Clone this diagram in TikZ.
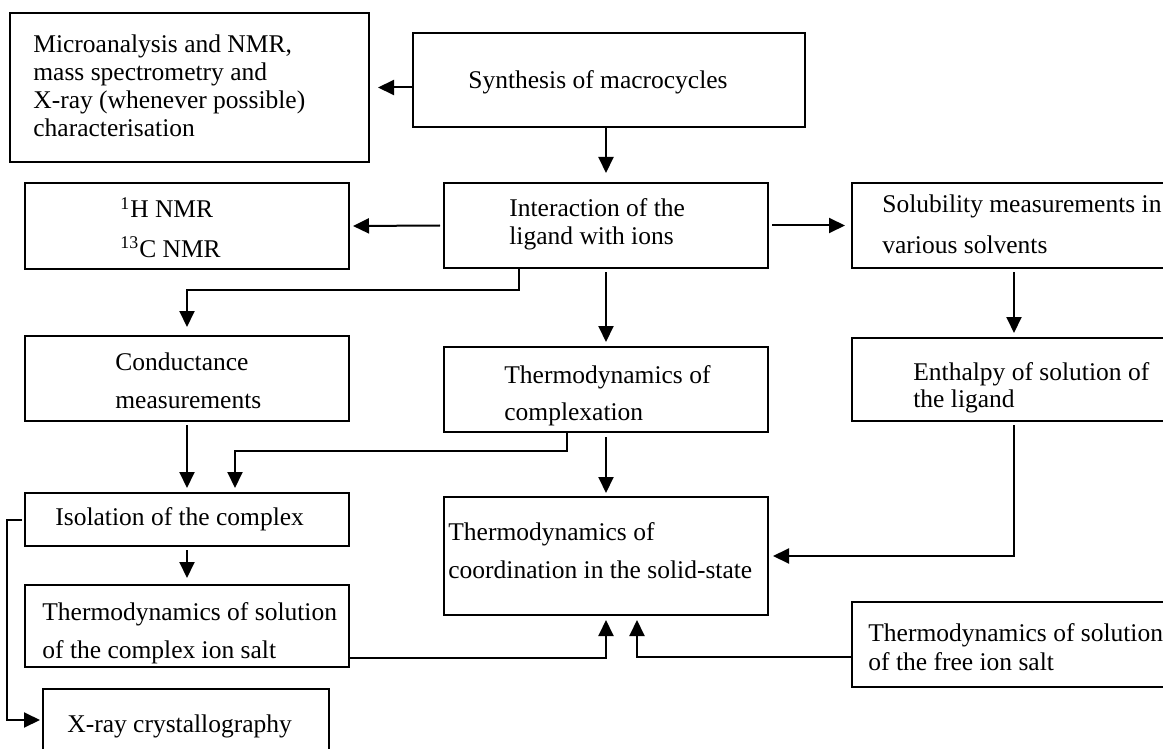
\documentclass[tikz,border=0pt]{standalone}
\usepackage{fontspec}
\setmainfont{Liberation Serif}
\usetikzlibrary{arrows.meta,fit,calc}
\begin{document}
\begin{tikzpicture}[x=0.5pt,y=-0.5pt,
  box/.style={draw, line width=1.2pt, inner sep=0pt, outer sep=0pt},
  txt/.style={anchor=base west, inner sep=0pt, font=\fontsize{12.75}{14}\selectfont},
  arr/.style={line width=1pt, -{Triangle[length=8pt,width=7.5pt]}}]
\clip (0,0) rectangle (1163,749);
\fill[white] (0,0) rectangle (1163,749);

% boxes
\node[box, fit={(10,13) (369,162)}] (A) {};
\node[box, fit={(413,33) (805,127)}] (B) {};
\node[box, fit={(25,183) (349,269)}] (C) {};
\node[box, fit={(444,183) (768,268)}] (D) {};
\node[box, fit={(852,183) (1176,268)}] (E) {};
\node[box, fit={(25,336) (349,421)}] (F) {};
\node[box, fit={(444,347) (768,432)}] (G) {};
\node[box, fit={(852,338) (1176,421)}] (E2) {};
\node[box, fit={(25,493) (349,546)}] (H) {};
\node[box, fit={(444,497) (768,615)}] (I) {};
\node[box, fit={(25,585) (349,667)}] (J) {};
\node[box, fit={(852,602) (1176,687)}] (K) {};
\node[box, fit={(43,689) (329,751)}] (L) {};

% texts
\node[txt] (tA1) at (33,53) {Microanalysis and NMR,};
\node[txt] (tA2) at (33,81) {mass spectrometry and};
\node[txt] (tA3) at (33,109) {X-ray (whenever possible)};
\node[txt] (tA4) at (33,137) {characterisation};
\node[txt] (tB1) at (468,89) {Synthesis of macrocycles};
\node[txt] (tC1) at (120,218) {\textsuperscript{1}H NMR};
\node[txt] (tC2) at (120,257) {\textsuperscript{13}C NMR};
\node[txt] (tD1) at (509,216) {Interaction of the};
\node[txt] (tD2) at (509,244) {ligand with ions};
\node[txt] (tE1) at (882,213) {Solubility measurements in};
\node[txt] (tE2) at (882,253) {various solvents};
\node[txt] (tF1) at (115,370) {Conductance};
\node[txt] (tF2) at (115,408) {measurements};
\node[txt] (tG1) at (504,383) {Thermodynamics of};
\node[txt] (tG2) at (504,420) {complexation};
\node[txt] (tE21) at (913,380) {Enthalpy of solution of};
\node[txt] (tE22) at (913,407) {the ligand};
\node[txt] (tH1) at (55,525) {Isolation of the complex};
\node[txt] (tI1) at (448,540) {Thermodynamics of};
\node[txt] (tI2) at (448,578) {coordination in the solid-state};
\node[txt] (tJ1) at (42,620) {Thermodynamics of solution};
\node[txt] (tJ2) at (42,658) {of the complex ion salt};
\node[txt] (tK1) at (868,641) {Thermodynamics of solution};
\node[txt] (tK2) at (868,670) {of the free ion salt};
\node[txt] (tL1) at (67,732) {X-ray crystallography};

% connectors
\draw[arr] (A.east -| B.west) -- ([xshift=4.5pt]A.east);
\draw[arr] (B.south -| D.north) -- ([yshift=5pt]D.north);
\draw[arr] ([xshift=-2pt]D.west) -- ([xshift=2pt]C.east);
\draw[arr] ([xshift=2pt]D.east) -- ([xshift=-3.5pt]E.west);
\draw[arr] ([xshift=37.5pt]D.south west) -- ++(0,22) -| ([yshift=4.5pt]F.north);
\draw[arr] ([yshift=-2pt]D.south) -- ([yshift=2.5pt]G.north);
\draw[arr] ([yshift=-2pt]E.south) -- ([yshift=2.5pt]E2.north);
\draw[arr] ([yshift=-2pt]F.south) -- ([yshift=2.5pt]H.north);
\draw[arr] ([xshift=61.5pt]G.south west) -- ++(0,19) -| ([xshift=24pt,yshift=2.5pt]H.north);
\draw[arr] ([yshift=-2.5pt]G.south) -- ([yshift=2pt]I.north);
\draw[arr] ([yshift=-2pt]E2.south) |- ([xshift=2.5pt]I.east);
\draw[arr] ([yshift=-2pt]H.south) -- ([yshift=3.5pt]J.north);
\draw[arr] ([xshift=-1.5pt]H.west) -- ++(-15,0) |- ([xshift=-1.5pt]L.west);
\draw[arr] ([yshift=-16pt]J.east) -| ([yshift=-2.5pt]I.south);
\draw[arr] ([yshift=-6pt]K.west) -| ([xshift=15.5pt,yshift=-2.5pt]I.south);
\end{tikzpicture}
\end{document}
